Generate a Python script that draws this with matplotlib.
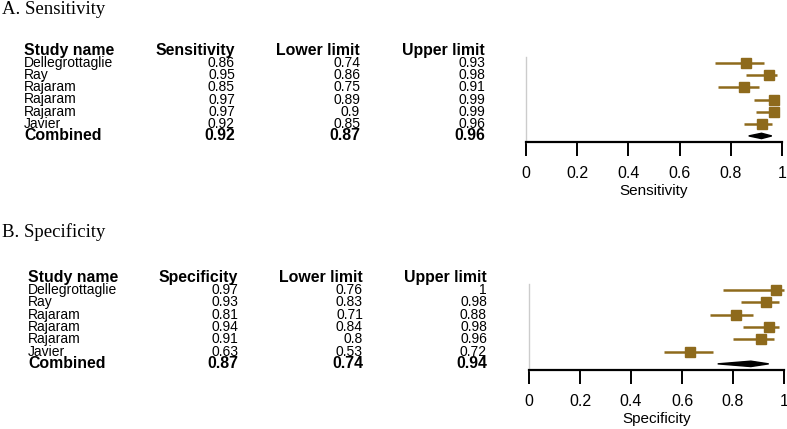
import numpy as np
import matplotlib.pyplot as plt
from matplotlib import transforms
from matplotlib.patches import Polygon

studies = ['Dellegrottaglie', 'Ray', 'Rajaram', 'Rajaram', 'Rajaram', 'Javier']

sens = [0.86, 0.95, 0.85, 0.97, 0.97, 0.92]
sens_lo = [0.74, 0.86, 0.75, 0.89, 0.9, 0.85]
sens_hi = [0.93, 0.98, 0.91, 0.99, 0.99, 0.96]
sens_comb = [0.92, 0.87, 0.96]

spec = [0.97, 0.93, 0.81, 0.94, 0.91, 0.63]
spec_lo = [0.76, 0.83, 0.71, 0.84, 0.8, 0.53]
spec_hi = [1, 0.98, 0.88, 0.98, 0.96, 0.72]
spec_comb = [0.87, 0.74, 0.94]

W, H = 787, 429
col = '#8E6A1C'
sans = 'Liberation Sans'


def fmt(v):
    return ('%.2f' % v).rstrip('0').rstrip('.')


def panel(fig, title, title_y, name, est, lo, hi, comb, ax_px, cols_px, name_x):
    # ax_px: left, right, top, bottom in pixels
    l, r, t, b = ax_px
    ax = fig.add_axes([l / W, 1 - b / H, (r - l) / W, (b - t) / H])
    fig.text(2 / W, 1 - title_y / H, title, family='Liberation Serif',
             fontsize=13.5, va='center', ha='left')

    n = len(est)
    ys = np.arange(1, n + 1)
    ax.errorbar(est, ys, xerr=[np.subtract(est, lo), np.subtract(hi, est)],
                fmt='s', color=col, ms=7, lw=1.8, capsize=0, clip_on=False)
    c, clo, chi = comb
    yc = n + 1
    d = Polygon([[clo, yc], [c, yc - 0.22], [chi, yc], [c, yc + 0.22]],
                closed=True, color='black', clip_on=False)
    ax.add_patch(d)

    ax.set_xlim(0, 1)
    ax.set_ylim(n + 1.5, 0.5)
    for s in ['top', 'right']:
        ax.spines[s].set_visible(False)
    ax.spines['left'].set_color('#cccccc')
    ax.spines['left'].set_linewidth(1)
    ax.spines['bottom'].set_linewidth(1.6)
    ax.set_yticks([])
    ax.set_xticks(np.arange(0, 1.01, 0.2))
    ax.set_xticklabels(['0', '0.2', '0.4', '0.6', '0.8', '1'])
    ax.tick_params(axis='x', length=10, width=1.4, direction='out', pad=7,
                   labelsize=11.5)
    for lab in ax.get_xticklabels():
        lab.set_family(sans)
    ax.set_xlabel(name, fontsize=11, family=sans, labelpad=2.5)

    tr = transforms.blended_transform_factory(fig.transFigure, ax.transData)
    headers = ['Study name', name, 'Lower limit', 'Upper limit']
    fig.text(name_x / W, 0, headers[0], transform=tr, fontsize=11.4,
             weight='bold', family=sans, va='center', ha='left')
    for h, x in zip(headers[1:], cols_px):
        fig.text(x / W, 0, h, transform=tr, fontsize=11.4, weight='bold',
                 family=sans, va='center', ha='right')
    for i in range(n):
        fig.text(name_x / W, ys[i], studies[i], transform=tr, fontsize=10,
                 family=sans, va='center', ha='left')
        for v, x in zip([est[i], lo[i], hi[i]], cols_px):
            fig.text(x / W, ys[i], fmt(v), transform=tr, fontsize=10,
                     family=sans, va='center', ha='right')
    fig.text(name_x / W, yc, 'Combined', transform=tr, fontsize=11.4,
             weight='bold', family=sans, va='center', ha='left')
    for v, x in zip(comb, cols_px):
        fig.text(x / W, yc, fmt(v), transform=tr, fontsize=11.4,
                 weight='bold', family=sans, va='center', ha='right')
    return ax


fig = plt.figure(figsize=(W / 100, H / 100), dpi=100)

panel(fig, 'A. Sensitivity', 9, 'Sensitivity', sens, sens_lo, sens_hi,
      sens_comb, (526, 782, 57, 142), (235, 360, 485), 24)
panel(fig, 'B. Specificity', 232, 'Specificity', spec, spec_lo, spec_hi,
      spec_comb, (529, 784, 284, 370), (238, 363, 487), 28)

fig.savefig('out.png', dpi=100)
